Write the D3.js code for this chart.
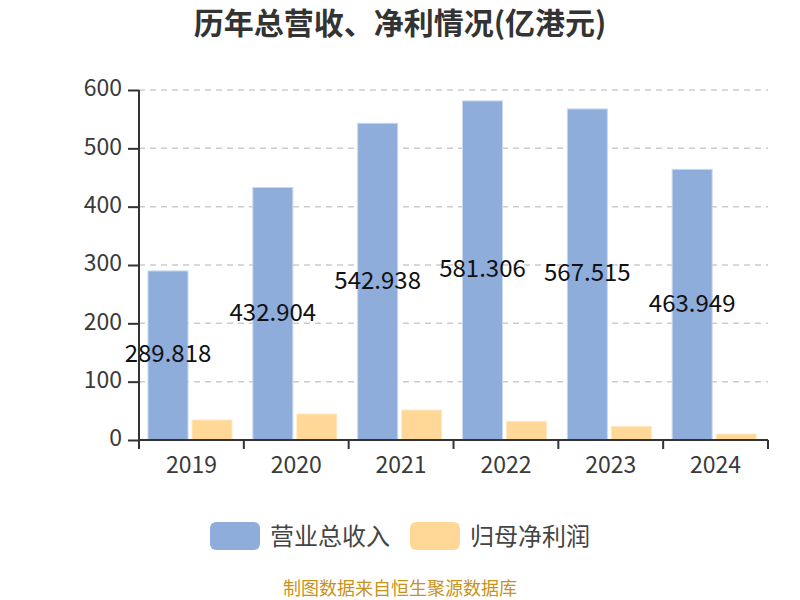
<!DOCTYPE html>
<html><head><meta charset="utf-8">
<script src="https://cdn.jsdelivr.net/npm/d3@7/dist/d3.min.js"></script>
<style>body{margin:0;background:#fff}svg{display:block}text{font-family:"Noto Sans CJK SC","Noto Sans",sans-serif}</style>
</head><body><svg id="c" width="800" height="600"></svg>
<script>
const years = ["2019","2020","2021","2022","2023","2024"];
const revenue = [289.818, 432.904, 542.938, 581.306, 567.515, 463.949];
const profit = [34.3, 44.6, 51.4, 32.0, 23.4, 10.3];
const yTicks = [0,100,200,300,400,500,600];
const seriesNames = ["营业总收入","归母净利润"];
const colors = ["#8eaddb","#ffd897"];

const svg = d3.select("#c");
const L=139, R=768, T=90, B=440;
const x = d3.scaleBand().domain(years).range([L,R]);
const y = d3.scaleLinear().domain([0,600]).range([B,T]);
const numFont = "\"Open Sans\",sans-serif";

svg.append("text").attr("x",400).attr("y",34).attr("text-anchor","middle")
  .attr("font-size",30).attr("font-weight","bold").attr("fill","#333").text("历年总营收、净利情况(亿港元)");

// grid
svg.append("g").selectAll("line").data(yTicks.filter(d=>d>0)).join("line")
  .attr("x1",L).attr("x2",R).attr("y1",d=>y(d)).attr("y2",d=>y(d))
  .attr("stroke","#ccc").attr("stroke-width",1.5).attr("stroke-dasharray","6,5");

// bars
const bw = 40;
const g = svg.append("g");
g.selectAll("rect.rev").data(years).join("rect").attr("class","rev")
  .attr("x",(d)=>x(d)+9).attr("width",bw)
  .attr("y",(d,i)=>y(revenue[i])).attr("height",(d,i)=>B-y(revenue[i]))
  .attr("fill",colors[0]).attr("stroke","#c9d8ef").attr("stroke-width",1);
g.selectAll("rect.pro").data(years).join("rect").attr("class","pro")
  .attr("x",(d)=>x(d)+9+bw+4).attr("width",bw)
  .attr("y",(d,i)=>y(profit[i])).attr("height",(d,i)=>B-y(profit[i]))
  .attr("fill",colors[1]).attr("stroke","#ffe9c2").attr("stroke-width",1);

// axes
const ya = svg.append("g").attr("transform",`translate(${L},0)`)
  .call(d3.axisLeft(y).tickValues(yTicks).tickSize(11).tickPadding(6));
ya.select(".domain").attr("stroke","#333").attr("stroke-width",2).attr("d",`M0,${B}V${T}`);
ya.selectAll(".tick line").attr("stroke","#333").attr("stroke-width",2);
ya.selectAll(".tick text").attr("font-size",23).attr("fill","#3a3a3a").attr("font-family",numFont).attr("dy","0.25em");

const xa = svg.append("g").attr("transform",`translate(0,${B})`)
  .call(d3.axisBottom(x).tickSize(0).tickPadding(19));
xa.select(".domain").attr("stroke","#333").attr("stroke-width",2).attr("d",`M${L},0H${R}`);
xa.selectAll(".tick text").attr("font-size",23).attr("fill","#3a3a3a").attr("font-family",numFont).attr("dy","0.62em");
svg.append("g").selectAll("line").data(d3.range(years.length+1)).join("line")
  .attr("x1",i=>L+i*x.step()).attr("x2",i=>L+i*x.step()).attr("y1",B).attr("y2",B+9)
  .attr("stroke","#333").attr("stroke-width",2);

// labels
g.selectAll("text.lab").data(years).join("text").attr("class","lab")
  .attr("x",d=>x(d)+9+bw/2).attr("y",(d,i)=>(y(revenue[i])+B)/2+7)
  .attr("text-anchor","middle").attr("font-size",24).attr("fill","#111")
  .attr("font-family",numFont)
  .text((d,i)=>revenue[i].toFixed(3));

// legend
const lg = svg.append("g");
const lx = [210,410];
seriesNames.forEach((n,i)=>{
  lg.append("rect").attr("x",lx[i]).attr("y",522).attr("width",50).attr("height",28).attr("rx",6)
    .attr("fill",colors[i]);
  lg.append("text").attr("x",lx[i]+60).attr("y",545).attr("font-size",24).attr("fill","#444").text(n);
});

svg.append("text").attr("x",400).attr("y",595).attr("text-anchor","middle")
  .attr("font-size",18).attr("fill","#c8921c").text("制图数据来自恒生聚源数据库");
</script></body></html>
